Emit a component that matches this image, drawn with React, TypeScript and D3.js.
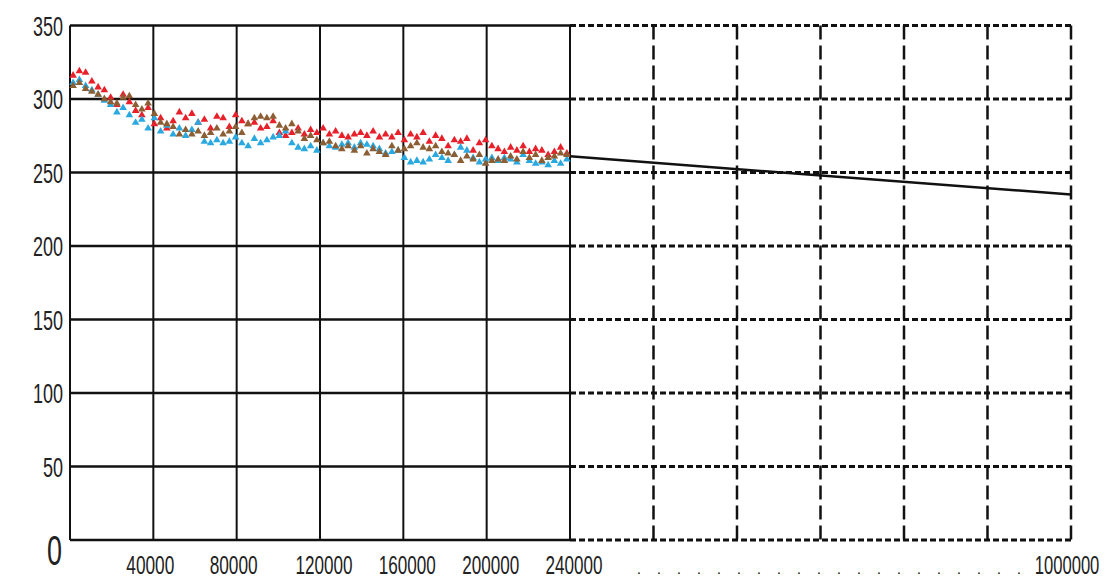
import React from "react";
import * as d3 from "d3";

const xs = [1500,4500,7500,10500,13500,16500,19500,22500,25500,28500,31500,34500,37500,40500,43500,46500,49500,52500,55500,58500,61500,64500,67500,70500,73500,76500,79500,82500,85500,88500,91500,94500,97500,100500,103500,106500,109500,112500,115500,118500,121500,124500,127500,130500,133500,136500,139500,142500,145500,148500,151500,154500,157500,160500,163500,166500,169500,172500,175500,178500,181500,184500,187500,190500,193500,196500,199500,202500,205500,208500,211500,214500,217500,220500,223500,226500,229500,232500,235500,238500];

const redVals = [316,319,318,312,308,306,301,296,303,298,292,289,294,283,287,280,285,291,287,290,284,286,280,288,287,281,289,285,283,284,280,281,285,277,275,277,280,276,279,277,280,276,278,275,274,276,277,275,278,274,276,274,277,272,276,274,277,271,275,273,268,272,271,273,265,270,272,268,266,264,267,265,268,264,266,265,262,264,267,263];

const brownVals = [309,311,307,305,303,300,298,297,301,302,296,293,297,290,284,283,281,276,279,276,278,275,277,280,276,278,281,277,283,287,288,287,288,282,280,283,278,273,275,272,270,271,268,266,268,265,268,263,266,264,262,268,265,266,268,270,267,266,268,264,263,262,258,261,259,262,256,258,259,258,261,259,264,260,262,258,260,261,263,262];

const blueVals = [311,313,309,306,303,299,296,291,294,289,284,286,280,287,278,282,276,280,275,279,284,271,270,272,270,271,274,270,268,273,270,272,274,275,278,270,267,266,268,265,270,268,267,269,270,267,270,269,268,266,263,264,265,260,257,258,257,259,262,260,258,262,267,265,260,257,259,260,258,260,259,257,262,258,256,257,255,258,256,259];

const yTicks = [50, 100, 150, 200, 250, 300, 350];
const xTicksSolid = [40000, 80000, 120000, 160000, 200000, 240000];
const xTickLabels = ["40000", "80000", "120000", "160000", "200000", "240000"];
const extTicks = [366667, 493333, 620000, 746667, 873333, 1000000];
const extLabel = "1000000";
const trendX = [240000, 1000000];
const trendY = [261, 235];
const dotCount = 20;

const series = [
  { name: "red", values: redVals, color: "#e8202a" },
  { name: "blue", values: blueVals, color: "#2aa8e0" },
  { name: "brown", values: brownVals, color: "#8c5e33" },
];

export default function App() {
  const W = 1107, H = 580;
  const x = d3.scaleLinear().domain([0, 240000, 1000000]).range([70, 570, 1071]);
  const y = d3.scaleLinear().domain([0, 350]).range([540, 25.5]);
  const tri = d3.symbol().type(d3.symbolTriangle).size(25)();
  const line = d3.line<number>().x((d, i) => x(trendX[i])).y((d) => y(d));
  const font = "'Liberation Sans', Arial, sans-serif";
  const allY = [0, ...yTicks];
  const x240 = x(240000);
  const x0 = x(0);

  return (
    <svg width={W} height={H} style={{ position: "absolute", left: 0, top: 0, background: "#fff" }}>
      {allY.map((v) => (
        <line key={"hs" + v} x1={x0} x2={x240} y1={y(v)} y2={y(v)} stroke="#111" strokeWidth={2.5} />
      ))}
      {allY.map((v) => (
        <line key={"hd" + v} x1={x240} x2={x(1000000)} y1={y(v)} y2={y(v)} stroke="#111" strokeWidth={3} strokeDasharray="6,3" />
      ))}
      <line x1={x0} x2={x0} y1={y(350)} y2={y(0)} stroke="#111" strokeWidth={2} />
      {xTicksSolid.map((v) => (
        <line key={"vs" + v} x1={x(v)} x2={x(v)} y1={y(350)} y2={y(0)} stroke="#111" strokeWidth={2} />
      ))}
      {extTicks.map((v) => (
        <line key={"vd" + v} x1={x(v)} x2={x(v)} y1={y(350)} y2={y(0)} stroke="#111" strokeWidth={2.5} strokeDasharray="14,6" />
      ))}
      {series.map((s) => (
        <g key={s.name}>
          {s.values.map((v, i) => (
            <path key={i} d={tri} transform={`translate(${x(xs[i])},${y(v)})`} fill={s.color} />
          ))}
        </g>
      ))}
      <path d={line(trendY) || ""} fill="none" stroke="#111" strokeWidth={2.5} />
      {yTicks.map((v) => {
        const t = String(v);
        return (
          <text key={"yl" + v} x={63} y={y(v) + 10} textAnchor="end" fontFamily={font} fontSize={27} fill="#222"
            textLength={t.length * 10} lengthAdjust="spacingAndGlyphs">{t}</text>
        );
      })}
      <text x={62} y={565} textAnchor="end" fontFamily={font} fontSize={42} fill="#222" textLength={15} lengthAdjust="spacingAndGlyphs">0</text>
      {xTicksSolid.map((v, i) => {
        const t = xTickLabels[i];
        return (
          <text key={"xl" + v} x={x(v) - (t.length === 5 ? 3 : -4)} y={574} textAnchor="middle" fontFamily={font} fontSize={26} fill="#222"
            textLength={t.length === 5 ? 48 : 57} lengthAdjust="spacingAndGlyphs">{t}</text>
        );
      })}
      <text transform={`translate(${x(1000000) - 4},574) scale(0.64,1)`} textAnchor="middle" fontFamily={font} fontSize={26} fill="#222">{extLabel}</text>
      {d3.range(dotCount).map((i) => (
        <text key={"dot" + i} x={639 + i * 20} y={574} textAnchor="middle" fontFamily={font} fontSize={14} fill="#000">.</text>
      ))}
    </svg>
  );
}
